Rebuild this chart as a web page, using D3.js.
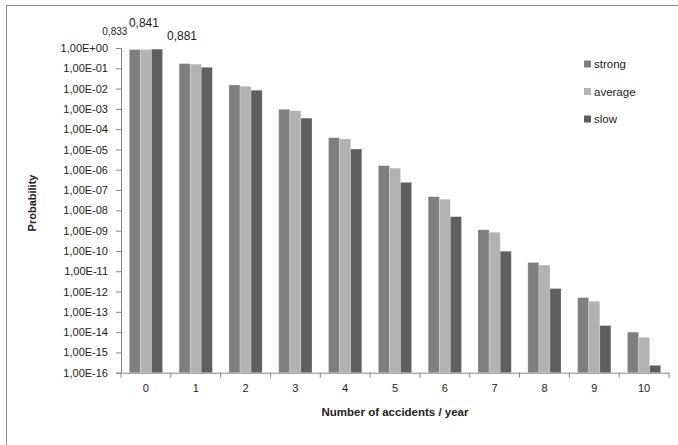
<!DOCTYPE html>
<html>
<head>
<meta charset="utf-8">
<script src="https://cdn.jsdelivr.net/npm/d3@7"></script>
<style>
  body { margin: 0; background: #fff; }
  svg { display: block; font-family: "Liberation Sans", Arial, sans-serif; }
</style>
</head>
<body>
<svg id="chart" width="678" height="445"></svg>
<script>
// accidents per year (x categories)
const categories = ["0", "1", "2", "3", "4", "5", "6", "7", "8", "9", "10"];
const seriesNames = ["strong", "average", "slow"];

// probabilities
const strong  = [0.833, 0.17, 0.015, 9.5e-4, 3.8e-5, 1.6e-6, 4.7e-8, 1.1e-9, 2.7e-11, 5.0e-13, 1.0e-14];
const average = [0.841, 0.16, 0.013, 8.1e-4, 3.3e-5, 1.2e-6, 3.5e-8, 8.3e-10, 2.0e-11, 3.3e-13, 5.5e-15];
const slow    = [0.881, 0.112, 0.0083, 3.5e-4, 1.05e-5, 2.4e-7, 4.9e-9, 9.7e-11, 1.4e-12, 2.1e-14, 2.3e-16];

// labels shown above the first group
const firstLabels = ["0,833", "0,841", "0,881"];

const colors = { strong: "#7f7f7f", average: "#b2b2b2", slow: "#5f5f5f" };
const values = { strong: strong, average: average, slow: slow };

const svg = d3.select("#chart");

const plotLeft = 121, plotRight = 669, plotTop = 48, plotBottom = 372.7;

// chart frame (only the top and left edges are inside the picture)
svg.append("rect")
  .attr("x", 6.5).attr("y", 5.5)
  .attr("width", 700).attr("height", 460)
  .attr("fill", "none")
  .attr("stroke", "#8c8c8c")
  .attr("stroke-width", 1);

const x = d3.scaleBand()
  .domain(categories)
  .range([plotLeft, plotRight])
  .padding(0);

const xSub = d3.scaleBand()
  .domain(seriesNames)
  .range([0, x.bandwidth()])
  .paddingInner(0)
  .paddingOuter(0.75);

const y = d3.scaleLog()
  .domain([1e-16, 1])
  .range([plotBottom, plotTop]);

const tickVals = d3.range(0, 17).map(i => Math.pow(10, -i));

function fmt(v) {
  const e = Math.round(Math.log10(v));
  const s = e < 0 ? "-" : "+";
  const a = Math.abs(e);
  return "1,00E" + s + (a < 10 ? "0" + a : a);
}

// bars
const rows = categories.map((c, i) => ({ cat: c, vals: seriesNames.map(s => ({ s: s, v: values[s][i] })) }));

const groups = svg.append("g").selectAll("g")
  .data(rows)
  .enter()
  .append("g")
  .attr("transform", d => "translate(" + x(d.cat) + ",0)");

groups.selectAll("rect")
  .data(d => d.vals)
  .enter()
  .append("rect")
  .attr("x", d => xSub(d.s))
  .attr("y", d => y(d.v))
  .attr("width", xSub.bandwidth())
  .attr("height", d => plotBottom - y(d.v))
  .attr("fill", d => colors[d.s])
  .attr("stroke", "rgba(255,255,255,0.35)")
  .attr("stroke-width", 0.6);

// y axis
const yAxis = svg.append("g")
  .attr("transform", "translate(" + plotLeft + ",0)")
  .call(d3.axisLeft(y).tickValues(tickVals).tickFormat(fmt).tickSizeOuter(0).tickSize(5).tickPadding(8));

// x axis
const xAxis = svg.append("g")
  .attr("transform", "translate(0," + plotBottom + ")")
  .call(d3.axisBottom(x).tickSize(0).tickSizeOuter(0).tickPadding(12));

// x tick marks sit between the groups
xAxis.selectAll(".sep")
  .data(categories.concat(["end"]))
  .enter()
  .append("line")
  .attr("x1", (d, i) => plotLeft + i * x.step())
  .attr("x2", (d, i) => plotLeft + i * x.step())
  .attr("y1", 0).attr("y2", 5)
  .attr("stroke", "#868686");

[yAxis, xAxis].forEach(ax => {
  ax.select(".domain").attr("stroke", "#868686");
  ax.selectAll(".tick line").attr("stroke", "#868686");
  ax.selectAll("text").attr("font-size", 11).attr("fill", "#222")
    .attr("font-family", "'Liberation Sans', Arial, sans-serif");
});

// data labels for the first group
const labelDx = [-20, -2, 25];
const labelY = [35, 27, 40];
const labelSize = [10, 12, 12];
svg.append("g").selectAll("text")
  .data(firstLabels)
  .enter()
  .append("text")
  .attr("x", (d, i) => x("0") + xSub(seriesNames[i]) + xSub.bandwidth() / 2 + labelDx[i])
  .attr("y", (d, i) => labelY[i])
  .attr("text-anchor", "middle")
  .attr("font-size", (d, i) => labelSize[i])
  .attr("fill", "#222")
  .text(d => d);

// axis titles
svg.append("text")
  .attr("x", 395).attr("y", 416)
  .attr("text-anchor", "middle")
  .attr("font-size", 11.5)
  .attr("font-weight", "bold")
  .attr("fill", "#222")
  .text("Number of accidents / year");

svg.append("text")
  .attr("transform", "translate(36,203) rotate(-90)")
  .attr("text-anchor", "middle")
  .attr("font-size", 11)
  .attr("font-weight", "bold")
  .attr("fill", "#222")
  .text("Probability");

// legend
const legend = svg.append("g").selectAll("g")
  .data(seriesNames)
  .enter()
  .append("g")
  .attr("transform", (d, i) => "translate(584," + (64 + i * 27.5) + ")");

legend.append("rect")
  .attr("x", 0).attr("y", -3.5)
  .attr("width", 7).attr("height", 7)
  .attr("fill", d => colors[d]);

legend.append("text")
  .attr("x", 10).attr("y", 4)
  .attr("font-size", 11.5)
  .attr("fill", "#222")
  .text(d => d);
</script>
</body>
</html>
